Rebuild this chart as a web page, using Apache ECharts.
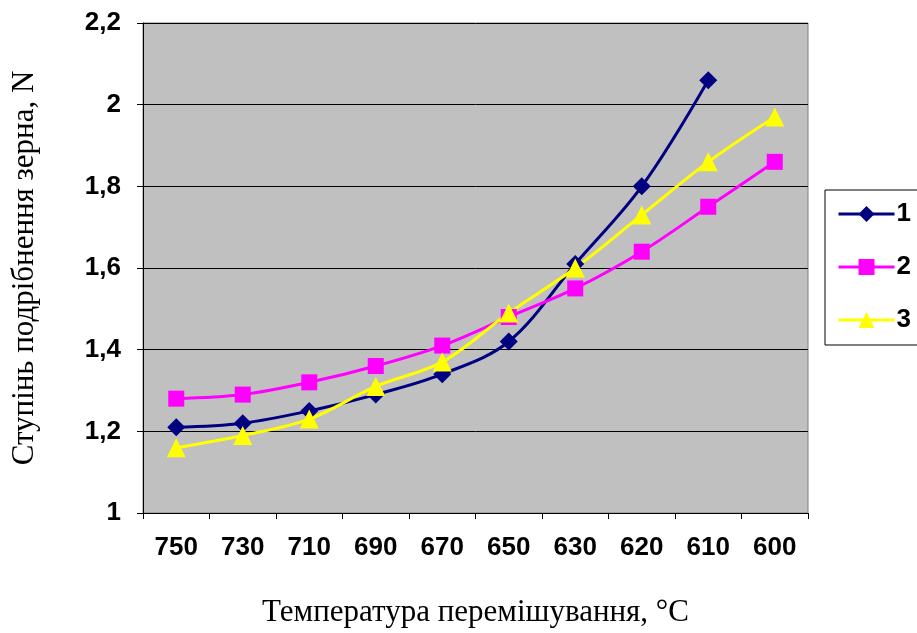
<!DOCTYPE html>
<html>
<head>
<meta charset="utf-8">
<script src="https://cdn.jsdelivr.net/npm/echarts@6/dist/echarts.min.js"></script>
<style>html,body{margin:0;padding:0;background:#fff}#c{width:917px;height:633px}</style>
</head>
<body>
<div id="c"></div>
<script>
const categories = ['750','730','710','690','670','650','630','620','610','600'];
const series1 = [1.21, 1.22, 1.25, 1.29, 1.34, 1.42, 1.61, 1.80, 2.06, null];
const series2 = [1.28, 1.29, 1.32, 1.36, 1.41, 1.48, 1.55, 1.64, 1.75, 1.86];
const series3 = [1.16, 1.19, 1.23, 1.31, 1.37, 1.49, 1.60, 1.73, 1.86, 1.97];
const seriesNames = ['1', '2', '3'];
const yTicks = { min: 1, max: 2.2, interval: 0.2 };

const chart = echarts.init(document.getElementById('c'));
const mk = (name, data, color, symbol, size) => ({
  name, type: 'line', data, smooth: 0.35, connectNulls: false,
  symbol, symbolSize: size,
  lineStyle: { color, width: 3 },
  itemStyle: { color, borderWidth: 0 },
  emphasis: { disabled: true }
});
chart.setOption({
  animation: false,
  backgroundColor: '#ffffff',
  grid: { left: 143, right: 109, top: 23, bottom: 119, show: true,
          backgroundColor: '#c0c0c0', borderColor: '#808080', borderWidth: 1 },
  legend: {
    orient: 'vertical', left: 825, top: 190,
    padding: [11, 30, 12, 12], itemGap: 27,
    itemWidth: 56, itemHeight: 20,
    lineStyle: { width: 3 },
    borderColor: '#000', borderWidth: 1, backgroundColor: '#fff',
    textStyle: { fontFamily: 'Liberation Sans, Arial', fontWeight: 'bold', fontSize: 26, color: '#000', padding: [0,0,0,-3] },
    data: seriesNames
  },
  xAxis: {
    type: 'category', data: categories, boundaryGap: true,
    name: 'Температура перемішування, °C', nameLocation: 'middle', nameGap: 84,
    nameTextStyle: { fontFamily: 'Liberation Serif, Times New Roman', fontSize: 31, color: '#000' },
    axisLine: { lineStyle: { color: '#000', width: 1 } },
    axisTick: { show: true, alignWithLabel: false, length: 6, lineStyle: { color: '#000' } },
    axisLabel: { fontFamily: 'Liberation Sans, Arial', fontWeight: 'bold', fontSize: 26, color: '#000', margin: 22 },
    splitLine: { show: false }
  },
  yAxis: {
    type: 'value', min: yTicks.min, max: yTicks.max, interval: yTicks.interval,
    name: 'Ступінь подрібнення зерна, N', nameLocation: 'middle', nameGap: 103,
    nameTextStyle: { fontFamily: 'Liberation Serif, Times New Roman', fontSize: 31, color: '#000' },
    axisLine: { show: true, lineStyle: { color: '#000', width: 1 } },
    axisTick: { show: true, length: 6, lineStyle: { color: '#000' } },
    axisLabel: { fontFamily: 'Liberation Sans, Arial', fontWeight: 'bold', fontSize: 26, color: '#000', margin: 22,
      formatter: v => String(Math.round(v * 10) / 10).replace('.', ',') },
    splitLine: { show: true, lineStyle: { color: '#000', width: 1 } }
  },
  series: [
    mk(seriesNames[0], series1, '#000080', 'diamond', 18),
    mk(seriesNames[1], series2, '#ff00ff', 'rect', 16),
    mk(seriesNames[2], series3, '#ffff00', 'triangle', 19)
  ]
});
</script>
</body>
</html>
